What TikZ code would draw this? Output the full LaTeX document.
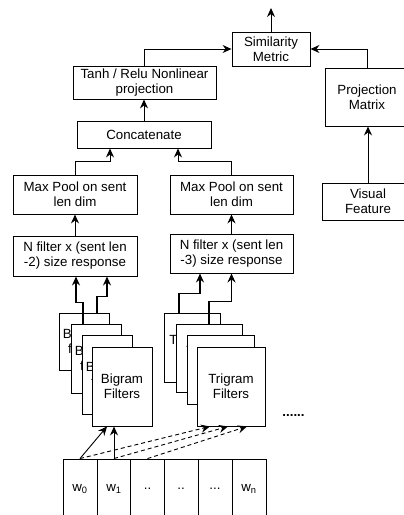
\documentclass[tikz,border=0pt]{standalone}
\usepackage{fontspec}
\setmainfont{Liberation Sans}
\usetikzlibrary{arrows.meta,calc}
\begin{document}
\begin{tikzpicture}[x=1pt,y=-1pt,
  box/.style={draw, fill=white, line width=0.9pt, align=center, inner sep=0pt,
    font=\fontsize{13.3}{15}\selectfont},
  wh/.style 2 args={minimum width=#1, minimum height=#2},
  arr/.style={line width=0.9pt, -{Stealth[length=9pt,width=8pt,inset=3pt]}},
  tarr/.style={line width=1.7pt, -{Stealth[length=9pt,width=8pt,inset=3pt]}},
  darr/.style={line width=0.9pt, dash pattern=on 4pt off 3pt, -{Stealth[length=9pt,width=8pt,inset=3pt]}}
]
\useasboundingbox (0,0) rectangle (404,515);

% top part
\node[box, wh={78}{34}] (sim) at (271,49) {Similarity\\Metric};
\node[box, wh={143}{33}] (tanh) at (144.5,82.5) {Tanh / Relu Nonlinear\\projection};
\node[box, wh={84}{58}] (proj) at (367,97) {Projection\\Matrix};
\node[box, wh={92}{37}] (vf) at (368,201.5) {Visual\\Feature};
\node[box, wh={134}{27}] (concat) at (144,134.5) {Concatenate};
\node[box, wh={124}{39}] (mp1) at (75,194.5) {Max Pool on sent\\len dim};
\node[box, wh={123}{39}] (mp2) at (231.5,194.5) {Max Pool on sent\\len dim};
\node[box, wh={124}{40}] (nf1) at (75,256) {N filter x (sent len\\-2) size response};
\node[box, wh={123}{39}] (nf2) at (231.5,253.5) {N filter x (sent len\\-3) size response};

% bigram cards
\node[box, wh={50}{57}] (b1) at (84,341.5) {Bigram\\filters};
\node[box, wh={50}{69}] (b2) at (96,358.5) {Bigram\\filters};
\node[box, wh={50}{79}] (b3) at (107,374.5) {Bigram\\filters};
\node[box, wh={60}{79}] (b4) at (122,386.5) {Bigram\\Filters};

% trigram cards
\node[box, wh={56}{69}] (t1) at (192,347.5) {Trigram\\filters};
\node[box, wh={66}{68}] (t2) at (209,358) {Trigram\\filters};
\node[box, wh={67}{69}] (t3) at (220.5,369.5) {Trigram\\filters};
\node[box, wh={68}{79}] (t4) at (231,386.5) {Trigram\\Filters};

\node[font=\fontsize{13.3}{15}\selectfont\bfseries, inner sep=0pt] (dots) at (293.5,416) {......};

% words
\node[box, wh={34}{60}] (w0) at (80,489) {w\textsubscript{0}};
\node[box, wh={34}{60}] (w1) at (114,489) {w\textsubscript{1}};
\node[box, wh={34}{60}] (w2) at (147.5,489) {..};
\node[box, wh={34}{60}] (w3) at (181,489) {..};
\node[box, wh={34}{60}] (w4) at (215,489) {...};
\node[box, wh={34}{60}] (w5) at (249,489) {w\textsubscript{n}};

% connectors
\coordinate (out) at (271,8);
\draw[arr] (sim.north) -- (out);
\draw[arr] (tanh.north) |- (sim.west);
\draw[arr] (proj.north) |- (sim.east);
\draw[arr] (vf.north) -- (vf.north |- proj.south);
\draw[arr] (concat.north) -- (concat.north |- tanh.south);
\draw[arr] (mp1.north) -- ++(0,-13) -| ($(concat.south)+(-34,0)$);
\draw[arr] (mp2.north) -- ++(0,-13) -| ($(concat.south)+(34,0)$);
\draw[arr] (nf1.north) -- (mp1.south);
\draw[arr] (nf2.north) -- (mp2.south);

\draw[tarr] ($(b2.north)+(-13,0)$) -- ++(0,-21) -| ($(nf1.south)+(1,0)$);
\draw[tarr] ($(b1.north)+(13,0)$) -- ++(0,-16) -| ($(nf1.south)+(32,0)$);
\draw[tarr] ($(t1.north)+(-13,0)$) -- ++(0,-19) -| ($(nf2.south)+(-31.5,0)$);
\draw[tarr] (t2.north) -- ++(0,-22) -| (nf2.south);

\draw[arr] (w0.north) -- ($(b4.south)+(-15,0)$);
\draw[arr] (w1.north) -- (w1.north |- b4.south);
\draw[darr] (w0.north) -- ($(t4.south)+(-21,0)$);
\draw[darr] (w1.north) -- ($(t4.south)+(-3,0)$);
\draw[darr] (w2.north) -- ($(t4.south)+(16,0)$);
\end{tikzpicture}
\end{document}
